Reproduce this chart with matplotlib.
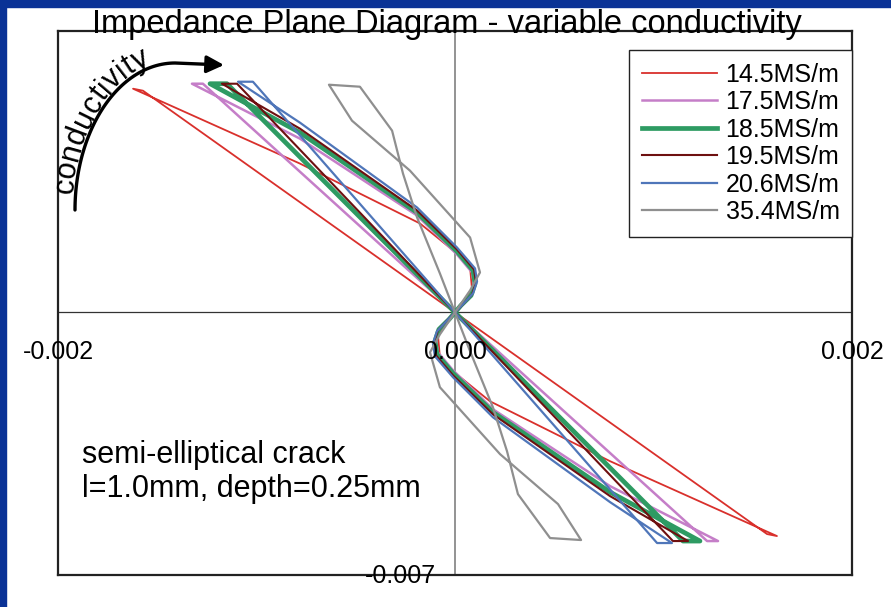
import numpy as np
import matplotlib
matplotlib.use("Agg")
import matplotlib.pyplot as plt
from matplotlib.patches import Rectangle, FancyArrowPatch
from matplotlib.path import Path
from matplotlib.textpath import text_to_path
from matplotlib.font_manager import FontProperties

plt.rcParams['font.family'] = ['Liberation Sans', 'DejaVu Sans']

labels = ["14.5MS/m", "17.5MS/m", "18.5MS/m", "19.5MS/m", "20.6MS/m", "35.4MS/m"]

red_x = [0, 0.000025, 0.000086, 0.000076, 0.000010, -0.000176, -0.000479, -0.000781, -0.001622, -0.001572, 0,
         -0.000025, -0.000086, -0.000076, -0.000010, 0.000176, 0.000479, 0.000781, 0.001622, 0.001572, 0]
red_y = [0, 0.000186, 0.000586, 0.001198, 0.001570, 0.002369, 0.003167, 0.003966, 0.005962, 0.005909, 0,
         -0.000186, -0.000586, -0.001198, -0.001570, -0.002369, -0.003167, -0.003966, -0.005962, -0.005909, 0]

pink_x = [0, 0.000025, 0.000076, 0.000096, 0.000086, 0.000010, -0.000191, -0.000781, -0.001325, -0.001270, 0,
          -0.000025, -0.000076, -0.000096, -0.000086, -0.000010, 0.000191, 0.000781, 0.001325, 0.001270, 0]
pink_y = [0, 0.000186, 0.000426, 0.000719, 0.001065, 0.001544, 0.002582, 0.004631, 0.006095, 0.006095, 0,
          -0.000186, -0.000426, -0.000719, -0.001065, -0.001544, -0.002582, -0.004631, -0.006095, -0.006095, 0]

green_x = [0, 0.000030, 0.000081, 0.000101, 0.000091, 0.000010, -0.000191, -0.000781, -0.001234, -0.001149, 0,
           -0.000030, -0.000081, -0.000101, -0.000091, -0.000010, 0.000191, 0.000781, 0.001234, 0.001149, 0]
green_y = [0, 0.000186, 0.000452, 0.000772, 0.001118, 0.001624, 0.002662, 0.004791, 0.006095, 0.006095, 0,
           -0.000186, -0.000452, -0.000772, -0.001118, -0.001624, -0.002662, -0.004791, -0.006095, -0.006095, 0]

dred_x = [0, 0.000035, 0.000086, 0.000106, 0.000096, 0.000010, -0.000191, -0.000781, -0.001174, -0.001098, 0,
          -0.000035, -0.000086, -0.000106, -0.000096, -0.000010, 0.000191, 0.000781, 0.001174, 0.001098, 0]
dred_y = [0, 0.000186, 0.000479, 0.000798, 0.001144, 0.001677, 0.002715, 0.004897, 0.006095, 0.006095, 0,
          -0.000186, -0.000479, -0.000798, -0.001144, -0.001677, -0.002715, -0.004897, -0.006095, -0.006095, 0]

blue_x = [0, 0.000035, 0.000091, 0.000111, 0.000101, 0.000010, -0.000191, -0.000781, -0.001093, -0.001018, 0,
          -0.000035, -0.000091, -0.000111, -0.000101, -0.000010, 0.000191, 0.000781, 0.001093, 0.001018, 0]
blue_y = [0, 0.000186, 0.000506, 0.000825, 0.001171, 0.001730, 0.002795, 0.005057, 0.006148, 0.006148, 0,
          -0.000186, -0.000506, -0.000825, -0.001171, -0.001730, -0.002795, -0.005057, -0.006148, -0.006148, 0]

gray_x = [0, 0.000076, 0.000126, 0.000076, -0.000227, -0.000519, -0.000635, -0.000479, -0.000317, -0.000262,
          -0.000191, -0.000076, 0,
          -0.000076, -0.000126, -0.000076, 0.000227, 0.000519, 0.000635, 0.000479, 0.000317, 0.000262,
          0.000191, 0.000076, 0]
gray_y = [0, 0.000586, 0.001065, 0.001996, 0.003779, 0.005110, 0.006068, 0.006015, 0.004844, 0.003700,
          0.002529, 0.001038, 0,
          -0.000586, -0.001065, -0.001996, -0.003779, -0.005110, -0.006068, -0.006015, -0.004844, -0.003700,
          -0.002529, -0.001038, 0]

series_x = [red_x, pink_x, green_x, dred_x, blue_x, gray_x]
series_y = [red_y, pink_y, green_y, dred_y, blue_y, gray_y]
colors = ['#d9302c', '#c57ec8', '#2e9b63', '#6e1010', '#4f76b9', '#8f8f8f']
widths = [1.3, 1.8, 3.4, 1.5, 1.6, 1.6]

W, H = 891, 607
fig = plt.figure(figsize=(W / 100, H / 100), dpi=100)
fig.patch.set_facecolor('white')

# dark blue slide border (left and top)
fig.patches.append(Rectangle((0, 0), 6 / W, 1, transform=fig.transFigure, color='#0a3296', zorder=0))
fig.patches.append(Rectangle((0, 1 - 7 / H), 1, 7 / H, transform=fig.transFigure, color='#0a3296', zorder=0))

fig.text(447 / W, 1 - 33 / H, "Impedance Plane Diagram - variable conductivity",
         ha='center', va='baseline', fontsize=23.5)

ax = fig.add_axes([58 / W, 1 - 575 / H, 794 / W, 544 / H])
ax.set_xlim(-0.002, 0.002)
ax.set_ylim(-0.007, 0.0075)
ax.set_xticks([])
ax.set_yticks([])
for sp in ax.spines.values():
    sp.set_linewidth(1.6)
    sp.set_color('#222222')

ax.axhline(0, color='#333333', lw=0.9, zorder=1)
ax.axvline(0, color='#808080', lw=1.2, zorder=1)

for xs, ys, c, lw, lab in zip(series_x, series_y, colors, widths, labels):
    ax.plot(xs, ys, color=c, lw=lw, label=lab, zorder=2, solid_joinstyle='round')

# tick labels sit where the excel chart put them
ax.text(-0.002, -0.00106, "-0.002", ha='center', va='center', fontsize=18, zorder=3)
ax.text(0.0, -0.00106, "0.000", ha='center', va='center', fontsize=18, zorder=3)
ax.text(0.002, -0.00106, "0.002", ha='center', va='center', fontsize=18, zorder=3)
ax.text(-0.000277, -0.00703, "-0.007", ha='center', va='center', fontsize=18, zorder=3)

leg = ax.legend(loc='upper right', bbox_to_anchor=(1.0, 0.965), fontsize=18, frameon=True,
                fancybox=False, edgecolor='#222222', framealpha=1, borderpad=0.5,
                handlelength=3.0, handletextpad=0.35, labelspacing=0.14, borderaxespad=0)
leg.get_frame().set_linewidth(1.0)

fig.text(82 / W, 1 - 472 / H, "semi-elliptical crack\nl=1.0mm, depth=0.25mm",
         ha='left', va='center', fontsize=22, linespacing=1.2)

# curved "conductivity" arrow, drawn in pixel space (y down)
cx, cy, rx, ry = 175, 210, 100, 147
t = np.linspace(np.pi, np.pi / 2, 60)
arc_px = np.column_stack([cx + rx * np.cos(t), cy - ry * np.sin(t)])
arc_px = np.vstack([arc_px, [[224, 65]]])
verts = [(px / W, 1 - py / H) for px, py in arc_px]
arrow = FancyArrowPatch(path=Path(verts), arrowstyle='-|>', mutation_scale=26, lw=2.4,
                        color='black', transform=fig.transFigure)
fig.patches.append(arrow)

word = "conductivity"
fs = 22
fp = FontProperties(family='Liberation Sans', size=fs)
off = 3
tt = np.linspace(np.pi, np.pi / 2, 400)
ox = cx + (rx + off) * np.cos(tt)
oy = cy - (ry + off) * np.sin(tt)
seg = np.hypot(np.diff(ox), np.diff(oy))
cum = np.concatenate([[0], np.cumsum(seg)])
start = 16
for i, ch in enumerate(word):
    w0 = text_to_path.get_text_width_height_descent(word[:i], fp, ismath=False)[0] if i else 0
    w1 = text_to_path.get_text_width_height_descent(word[:i + 1], fp, ismath=False)[0]
    s = start + (w0 + w1) / 2 * 100 / 72
    ti = np.interp(s, cum, tt)
    px = cx + (rx + off) * np.cos(ti)
    py = cy - (ry + off) * np.sin(ti)
    ang = np.degrees(np.arctan2(-ry * np.cos(ti), rx * np.sin(ti)))
    fig.text(px / W, 1 - py / H, ch, fontsize=fs, rotation=ang, rotation_mode='anchor',
             ha='center', va='baseline')

fig.savefig('out.png', dpi=100)
